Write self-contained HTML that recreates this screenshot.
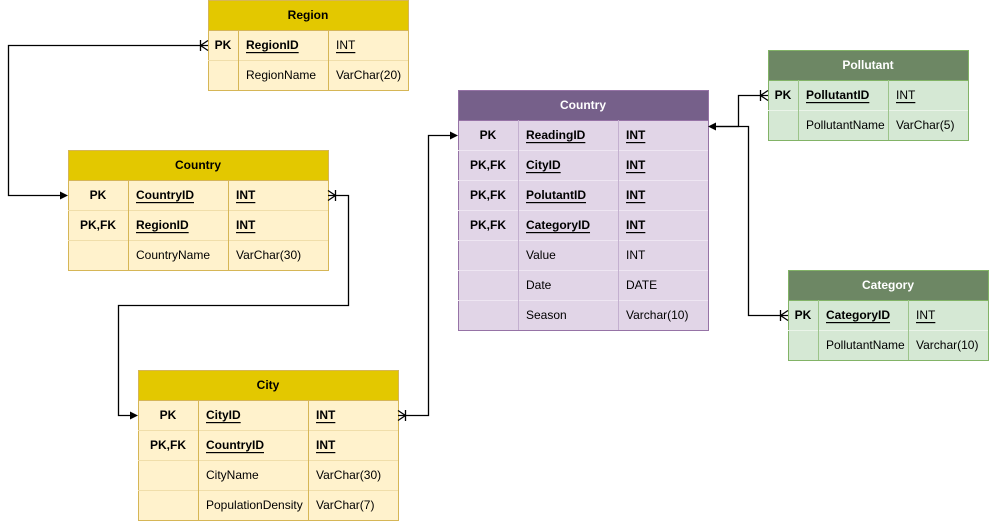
<!DOCTYPE html>
<html><head><meta charset="utf-8"><style>
body{margin:0;background:#fff}
svg{display:block}
text{font-family:"Liberation Sans",Arial,sans-serif;font-size:12px;dominant-baseline:central}
.h{font-weight:bold;text-anchor:middle}
.hw{fill:#fff}
.b{font-weight:bold}
.c{text-anchor:middle}
.u{text-decoration:underline}
.ln{stroke:#000;fill:none;stroke-width:1.3}
</style></head><body>
<svg width="989" height="521" viewBox="0 0 989 521" xmlns="http://www.w3.org/2000/svg">
<!-- Region -->
<rect x="208.5" y="0.5" width="200" height="90" fill="#fff2cc" stroke="#d6b656"/>
<rect x="208.5" y="0.5" width="200" height="30" fill="#e3c800" stroke="#d6b656"/>
<line x1="208" y1="60.5" x2="408" y2="60.5" stroke="#f0deaa"/>
<line x1="238.5" y1="30" x2="238.5" y2="90" stroke="#d6b656"/>
<line x1="328.5" y1="30" x2="328.5" y2="90" stroke="#d6b656"/>
<text class="h" x="308" y="15">Region</text>
<text class="b c" x="223" y="45">PK</text><text class="b u" x="246" y="45">RegionID</text><text class="u" x="336" y="45">INT</text>
<text x="246" y="75">RegionName</text><text x="336" y="75">VarChar(20)</text>

<!-- Country yellow -->
<rect x="68.5" y="150.5" width="260" height="120" fill="#fff2cc" stroke="#d6b656"/>
<rect x="68.5" y="150.5" width="260" height="30" fill="#e3c800" stroke="#d6b656"/>
<line x1="68" y1="210.5" x2="328" y2="210.5" stroke="#f0deaa"/>
<line x1="68" y1="240.5" x2="328" y2="240.5" stroke="#f0deaa"/>
<line x1="128.5" y1="180" x2="128.5" y2="270" stroke="#d6b656"/>
<line x1="228.5" y1="180" x2="228.5" y2="270" stroke="#d6b656"/>
<text class="h" x="198" y="165">Country</text>
<text class="b c" x="98" y="195">PK</text><text class="b u" x="136" y="195">CountryID</text><text class="b u" x="236" y="195">INT</text>
<text class="b c" x="98" y="225">PK,FK</text><text class="b u" x="136" y="225">RegionID</text><text class="b u" x="236" y="225">INT</text>
<text x="136" y="255">CountryName</text><text x="236" y="255">VarChar(30)</text>

<!-- City -->
<rect x="138.5" y="370.5" width="260" height="150" fill="#fff2cc" stroke="#d6b656"/>
<rect x="138.5" y="370.5" width="260" height="30" fill="#e3c800" stroke="#d6b656"/>
<line x1="138" y1="430.5" x2="398" y2="430.5" stroke="#f0deaa"/>
<line x1="138" y1="460.5" x2="398" y2="460.5" stroke="#f0deaa"/>
<line x1="138" y1="490.5" x2="398" y2="490.5" stroke="#f0deaa"/>
<line x1="198.5" y1="400" x2="198.5" y2="520" stroke="#d6b656"/>
<line x1="308.5" y1="400" x2="308.5" y2="520" stroke="#d6b656"/>
<text class="h" x="268" y="385">City</text>
<text class="b c" x="168" y="415">PK</text><text class="b u" x="206" y="415">CityID</text><text class="b u" x="316" y="415">INT</text>
<text class="b c" x="168" y="445">PK,FK</text><text class="b u" x="206" y="445">CountryID</text><text class="b u" x="316" y="445">INT</text>
<text x="206" y="475">CityName</text><text x="316" y="475">VarChar(30)</text>
<text x="206" y="505">PopulationDensity</text><text x="316" y="505">VarChar(7)</text>

<!-- Country purple -->
<rect x="458.5" y="90.5" width="250" height="240" fill="#e1d5e7" stroke="#9673a6"/>
<rect x="458.5" y="90.5" width="250" height="30" fill="#76608a" stroke="#9673a6"/>
<line x1="458" y1="150.5" x2="708" y2="150.5" stroke="#eee6f2"/>
<line x1="458" y1="180.5" x2="708" y2="180.5" stroke="#eee6f2"/>
<line x1="458" y1="210.5" x2="708" y2="210.5" stroke="#eee6f2"/>
<line x1="458" y1="240.5" x2="708" y2="240.5" stroke="#eee6f2"/>
<line x1="458" y1="270.5" x2="708" y2="270.5" stroke="#eee6f2"/>
<line x1="458" y1="300.5" x2="708" y2="300.5" stroke="#eee6f2"/>
<line x1="518.5" y1="120" x2="518.5" y2="330" stroke="#c3b0cf"/>
<line x1="618.5" y1="120" x2="618.5" y2="330" stroke="#c3b0cf"/>
<text class="h hw" x="583" y="105">Country</text>
<text class="b c" x="488" y="135">PK</text><text class="b u" x="526" y="135">ReadingID</text><text class="b u" x="626" y="135">INT</text>
<text class="b c" x="488" y="165">PK,FK</text><text class="b u" x="526" y="165">CityID</text><text class="b u" x="626" y="165">INT</text>
<text class="b c" x="488" y="195">PK,FK</text><text class="b u" x="526" y="195">PolutantID</text><text class="b u" x="626" y="195">INT</text>
<text class="b c" x="488" y="225">PK,FK</text><text class="b u" x="526" y="225">CategoryID</text><text class="b u" x="626" y="225">INT</text>
<text x="526" y="255">Value</text><text x="626" y="255">INT</text>
<text x="526" y="285">Date</text><text x="626" y="285">DATE</text>
<text x="526" y="315">Season</text><text x="626" y="315">Varchar(10)</text>

<!-- Pollutant -->
<rect x="768.5" y="50.5" width="200" height="90" fill="#d5e8d4" stroke="#82b366"/>
<rect x="768.5" y="50.5" width="200" height="30" fill="#6d8764" stroke="#82b366"/>
<line x1="768" y1="110.5" x2="968" y2="110.5" stroke="#eaf4e9"/>
<line x1="798.5" y1="80" x2="798.5" y2="140" stroke="#9cc48a"/>
<line x1="888.5" y1="80" x2="888.5" y2="140" stroke="#9cc48a"/>
<text class="h hw" x="868" y="65">Pollutant</text>
<text class="b c" x="783" y="95">PK</text><text class="b u" x="806" y="95">PollutantID</text><text class="u" x="896" y="95">INT</text>
<text x="806" y="125">PollutantName</text><text x="896" y="125">VarChar(5)</text>

<!-- Category -->
<rect x="788.5" y="270.5" width="200" height="90" fill="#d5e8d4" stroke="#82b366"/>
<rect x="788.5" y="270.5" width="200" height="30" fill="#6d8764" stroke="#82b366"/>
<line x1="788" y1="330.5" x2="988" y2="330.5" stroke="#eaf4e9"/>
<line x1="818.5" y1="300" x2="818.5" y2="360" stroke="#9cc48a"/>
<line x1="908.5" y1="300" x2="908.5" y2="360" stroke="#9cc48a"/>
<text class="h hw" x="888" y="285">Category</text>
<text class="b c" x="803" y="315">PK</text><text class="b u" x="826" y="315">CategoryID</text><text class="u" x="916" y="315">INT</text>
<text x="826" y="345">PollutantName</text><text x="916" y="345">Varchar(10)</text>

<!-- connectors -->
<path class="ln" d="M208,45.5 H8.5 V195.5 H62"/>
<path d="M68,195.5 l-8,-4 v8 z" fill="#000"/>
<path class="ln" d="M200.5,40 v11 M200.5,45.5 L208,40.5 M200.5,45.5 L208,50.5"/>

<path class="ln" d="M328,195.5 H348.5 V305.5 H118.5 V415.5 H132"/>
<path d="M138,415.5 l-8,-4 v8 z" fill="#000"/>
<path class="ln" d="M335.5,190 v11 M335.5,195.5 L328,190.5 M335.5,195.5 L328,200.5"/>

<path class="ln" d="M398,415.5 H428.5 V135.5 H452"/>
<path d="M458,135.5 l-8,-4 v8 z" fill="#000"/>
<path class="ln" d="M405.5,410 v11 M405.5,415.5 L398,410.5 M405.5,415.5 L398,420.5"/>

<path class="ln" d="M768,95.5 H738.5 V126.5 H714"/>
<path class="ln" d="M788,315.5 H748.5 V126.5 H714"/>
<path d="M708,126.5 l8,-4 v8 z" fill="#000"/>
<path class="ln" d="M760.5,90 v11 M760.5,95.5 L768,90.5 M760.5,95.5 L768,100.5"/>
<path class="ln" d="M780.5,310 v11 M780.5,315.5 L788,310.5 M780.5,315.5 L788,320.5"/>
</svg>
</body></html>
